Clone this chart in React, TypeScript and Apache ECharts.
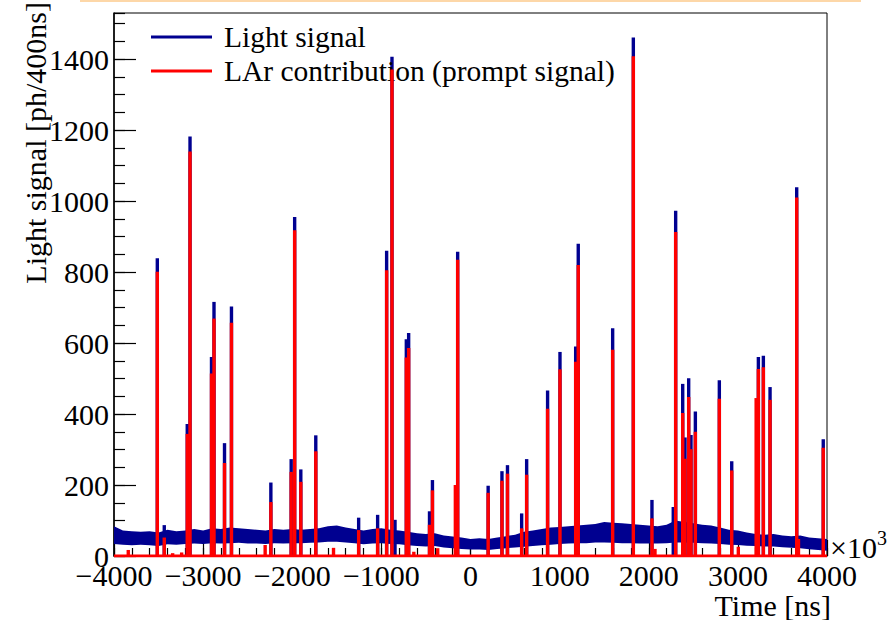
import React, { useEffect, useRef } from "react";
import * as echarts from "echarts";

// ---- data ----
const X_MIN = -4000;
const X_MAX = 4000;
const Y_MAX = 1530;

// baseline (continuous light) envelope of the blue histogram, every 100 x10^3 ns
const bandTimes = [
  -4000, -3900, -3800, -3700, -3600, -3500, -3400, -3300, -3200, -3100,
  -3000, -2900, -2800, -2700, -2600, -2500, -2400, -2300, -2200, -2100,
  -2000, -1900, -1800, -1700, -1600, -1500, -1400, -1300, -1200, -1100,
  -1000, -900, -800, -700, -600, -500, -400, -300, -200, -100,
  0, 100, 200, 300, 400, 500, 600, 700, 800, 900,
  1000, 1100, 1200, 1300, 1400, 1500, 1600, 1700, 1800, 1900,
  2000, 2100, 2200, 2300, 2400, 2500, 2600, 2700, 2800, 2900,
  3000, 3100, 3200, 3300, 3400, 3500, 3600, 3700, 3800, 3900, 4000,
];
const bandUpper = [
  84, 72, 70, 68, 70, 66, 74, 70, 72, 76,
  72, 78, 76, 80, 78, 76, 74, 72, 76, 74,
  76, 74, 76, 78, 84, 86, 80, 76, 72, 76,
  78, 74, 72, 68, 64, 62, 64, 58, 55, 52,
  48, 50, 48, 52, 56, 60, 68, 72, 76, 80,
  82, 84, 86, 88, 90, 96, 94, 92, 90, 88,
  86, 84, 88, 100, 96, 92, 88, 86, 80, 74,
  72, 66, 62, 60, 62, 58, 56, 58, 52, 50, 48,
];
const bandLower = [
  34, 32, 30, 32, 30, 28, 33, 32, 34, 35,
  34, 36, 35, 36, 37, 35, 35, 34, 36, 35,
  36, 36, 37, 38, 40, 40, 38, 36, 33, 35,
  36, 34, 33, 30, 28, 27, 28, 24, 22, 20,
  18, 18, 17, 20, 22, 24, 26, 28, 30, 32,
  34, 35, 36, 36, 38, 38, 37, 36, 36, 35,
  35, 35, 36, 38, 38, 37, 36, 35, 34, 32,
  31, 29, 28, 27, 27, 25, 23, 22, 19, 17, 15,
];

// peaks: time (x10^3 ns), total light signal, LAr (prompt) contribution
const peakTimes = [
  -3840, -3514, -3436, -3342, -3241, -3178, -3147, -2906, -2878, -2760,
  -2682, -2304, -2240, -2012, -1973, -1904, -1736, -1537, -1255, -1042,
  -941, -881, -847, -720, -694, -636, -460, -427, -368, -170,
  -144, 198, 353, 415, 574, 630, 865, 1004, 1180, 1209,
  1595, 1827, 2036, 2070, 2275, 2302, 2381, 2407, 2448, 2474,
  2523, 2792, 2931, 3005, 3205, 3230, 3286, 3361, 3660, 3680, 3958,
];
const lightPeaks = [
  0, 839, 87, 0, 0, 372, 1182, 561, 716, 318,
  703, 0, 207, 273, 955, 244, 340, 0, 108, 116,
  860, 1407, 102, 611, 628, 0, 126, 214, 0, 0,
  857, 198, 239, 256, 120, 273, 466, 575, 590, 880,
  642, 1461, 158, 0, 138, 973, 485, 334, 501, 341,
  407, 495, 267, 0, 0, 561, 564, 476, 1039, 0, 329,
];
const larPeaks = [
  17, 801, 52, 8, 10, 344, 1140, 514, 669, 262,
  657, 31, 152, 237, 918, 209, 295, 23, 73, 78,
  805, 1371, 0, 559, 586, 12, 88, 185, 22, 200,
  835, 178, 212, 232, 78, 229, 415, 526, 547, 820,
  581, 1408, 106, 20, 0, 913, 403, 274, 448, 301,
  350, 443, 241, 26, 445, 527, 532, 440, 1010, 48, 305,
];

const xTickLabels = [-4000, -3000, -2000, -1000, 0, 1000, 2000, 3000, 4000];
const yTickLabels = [0, 200, 400, 600, 800, 1000, 1200, 1400];

const LIGHT_NAME = "Light signal";
const LAR_NAME = "LAr contribution (prompt signal)";
const BLUE = "#000090";
const RED = "#ff0000";
const FONT = '"Liberation Serif", "Times New Roman", serif';

export default function App() {
  const ref = useRef<HTMLDivElement>(null);

  useEffect(() => {
    const chart = echarts.init(ref.current as HTMLDivElement, null, { renderer: "svg" });

    const bandData = bandTimes.map((t, i) => [t, bandUpper[i], bandLower[i]]);
    const lightData = peakTimes
      .map((t, i) => [t, lightPeaks[i]])
      .filter((d) => d[1] > 0);
    const larData = peakTimes
      .map((t, i) => [t, larPeaks[i]])
      .filter((d) => d[1] > 0);

    const HALF_W = 19;
    const spikeRenderer = (color: string) => (_params: any, api: any) => {
      const t = api.value(0);
      const v = api.value(1);
      const p0 = api.coord([t - HALF_W, 0]);
      const p1 = api.coord([t + HALF_W, v]);
      return {
        type: "rect",
        shape: { x: p0[0], y: p1[1], width: p1[0] - p0[0], height: p0[1] - p1[1] },
        style: { fill: color },
      };
    };

    const bandRenderer = (params: any, api: any) => {
      if (params.dataIndex !== 0) return null;
      const pts: number[][] = [];
      for (let i = 0; i < bandData.length; i++) {
        pts.push(api.coord([bandData[i][0], bandData[i][1]]));
      }
      for (let i = bandData.length - 1; i >= 0; i--) {
        pts.push(api.coord([bandData[i][0], bandData[i][2]]));
      }
      return { type: "polygon", shape: { points: pts }, style: { fill: BLUE } };
    };

    const tickStyle = { fontFamily: FONT, fontSize: 30, color: "#000" };

    chart.setOption({
      animation: false,
      backgroundColor: "#ffffff",
      grid: {
        left: 114,
        right: 64,
        top: 13,
        bottom: 64,
        show: true,
        borderColor: "#000",
        borderWidth: 1,
        backgroundColor: "transparent",
        containLabel: false,
        outerBoundsMode: "none",
      },
      legend: {
        orient: "vertical",
        left: 151,
        top: 22,
        padding: 0,
        itemGap: 4,
        itemWidth: 61,
        itemHeight: 3,
        selectedMode: false,
        textStyle: {
          fontFamily: FONT,
          fontSize: 29.5,
          color: "#000",
          lineHeight: 30,
          padding: [0, 0, 0, 7],
        },
        data: [
          { name: LIGHT_NAME, icon: "rect", itemStyle: { color: BLUE } },
          { name: LAR_NAME, icon: "rect", itemStyle: { color: RED } },
        ],
      },
      xAxis: [
        {
          type: "value",
          min: X_MIN,
          max: X_MAX,
          interval: 1000,
          axisLine: { show: true, onZero: false, lineStyle: { color: "#000", width: 1 } },
          axisTick: { show: true, inside: true, length: 16, lineStyle: { color: "#000", width: 1.2 } },
          axisLabel: {
            ...tickStyle,
            margin: 4,
            formatter: (v: number) =>
              xTickLabels.indexOf(v) >= 0 ? (v < 0 ? "\u2212" + Math.abs(v) : String(v)) : "",
          },
          splitLine: { show: false },
        },
        {
          type: "value",
          min: X_MIN,
          max: X_MAX,
          interval: 200,
          position: "bottom",
          axisLine: { show: false, onZero: false },
          axisTick: { show: true, inside: true, length: 8, lineStyle: { color: "#000", width: 1.2 } },
          axisLabel: { show: false },
          splitLine: { show: false },
        },
      ],
      yAxis: [
        {
          type: "value",
          min: 0,
          max: Y_MAX,
          interval: 200,
          position: "left",
          axisLine: { show: true, onZero: false, lineStyle: { color: "#000", width: 1.5 } },
          axisTick: { show: true, inside: true, length: 22, lineStyle: { color: "#000", width: 1.2 } },
          axisLabel: {
            ...tickStyle,
            margin: 5,
            showMaxLabel: false,
            formatter: (v: number) => (yTickLabels.indexOf(v) >= 0 ? String(v) : ""),
          },
          splitLine: { show: false },
        },
        {
          type: "value",
          min: 0,
          max: Y_MAX,
          interval: 50,
          position: "left",
          axisLine: { show: false, onZero: false },
          axisTick: { show: true, inside: true, length: 11, lineStyle: { color: "#000", width: 1.2 } },
          axisLabel: { show: false },
          splitLine: { show: false },
        },
      ],
      series: [
        {
          name: LIGHT_NAME,
          type: "custom",
          xAxisIndex: 0,
          yAxisIndex: 0,
          clip: true,
          itemStyle: { color: BLUE },
          renderItem: bandRenderer,
          data: bandData,
          z: 2,
        },
        {
          name: LIGHT_NAME,
          type: "custom",
          xAxisIndex: 0,
          yAxisIndex: 0,
          clip: true,
          itemStyle: { color: BLUE },
          renderItem: spikeRenderer(BLUE),
          data: lightData,
          z: 3,
        },
        {
          name: LAR_NAME,
          type: "line",
          xAxisIndex: 0,
          yAxisIndex: 0,
          showSymbol: false,
          symbol: "none",
          itemStyle: { color: RED },
          lineStyle: { color: RED, width: 3.2 },
          data: [
            [X_MIN, 0],
            [X_MAX, 0],
          ],
          z: 4,
        },
        {
          name: LAR_NAME,
          type: "custom",
          xAxisIndex: 0,
          yAxisIndex: 0,
          clip: true,
          itemStyle: { color: RED },
          renderItem: spikeRenderer(RED),
          data: larData,
          z: 5,
        },
      ],
      graphic: [
        {
          type: "rect",
          shape: { x: 80, y: 0, width: 781, height: 2 },
          style: { fill: "#fdd7a8" },
          silent: true,
        },
        {
          type: "text",
          x: 50,
          y: 2,
          rotation: Math.PI / 2,
          style: {
            text: "Light signal [ph/400ns]",
            font: `30px ${FONT}`,
            fill: "#000",
            align: "right",
            verticalAlign: "bottom",
          },
        },
        {
          type: "text",
          x: 831,
          y: 590,
          style: {
            text: "Time [ns]",
            font: `30px ${FONT}`,
            fill: "#000",
            align: "right",
            verticalAlign: "top",
          },
        },
        {
          type: "text",
          x: 830,
          y: 562,
          style: {
            text: "\u00d710",
            font: `30px ${FONT}`,
            fill: "#000",
            align: "left",
            verticalAlign: "bottom",
          },
        },
        {
          type: "text",
          x: 877,
          y: 548,
          style: {
            text: "3",
            font: `20px ${FONT}`,
            fill: "#000",
            align: "left",
            verticalAlign: "bottom",
          },
        },
      ],
    });

    return () => chart.dispose();
  }, []);

  return (
    <div
      ref={ref}
      style={{ position: "fixed", left: 0, top: 0, width: 891, height: 620, background: "#fff" }}
    />
  );
}
